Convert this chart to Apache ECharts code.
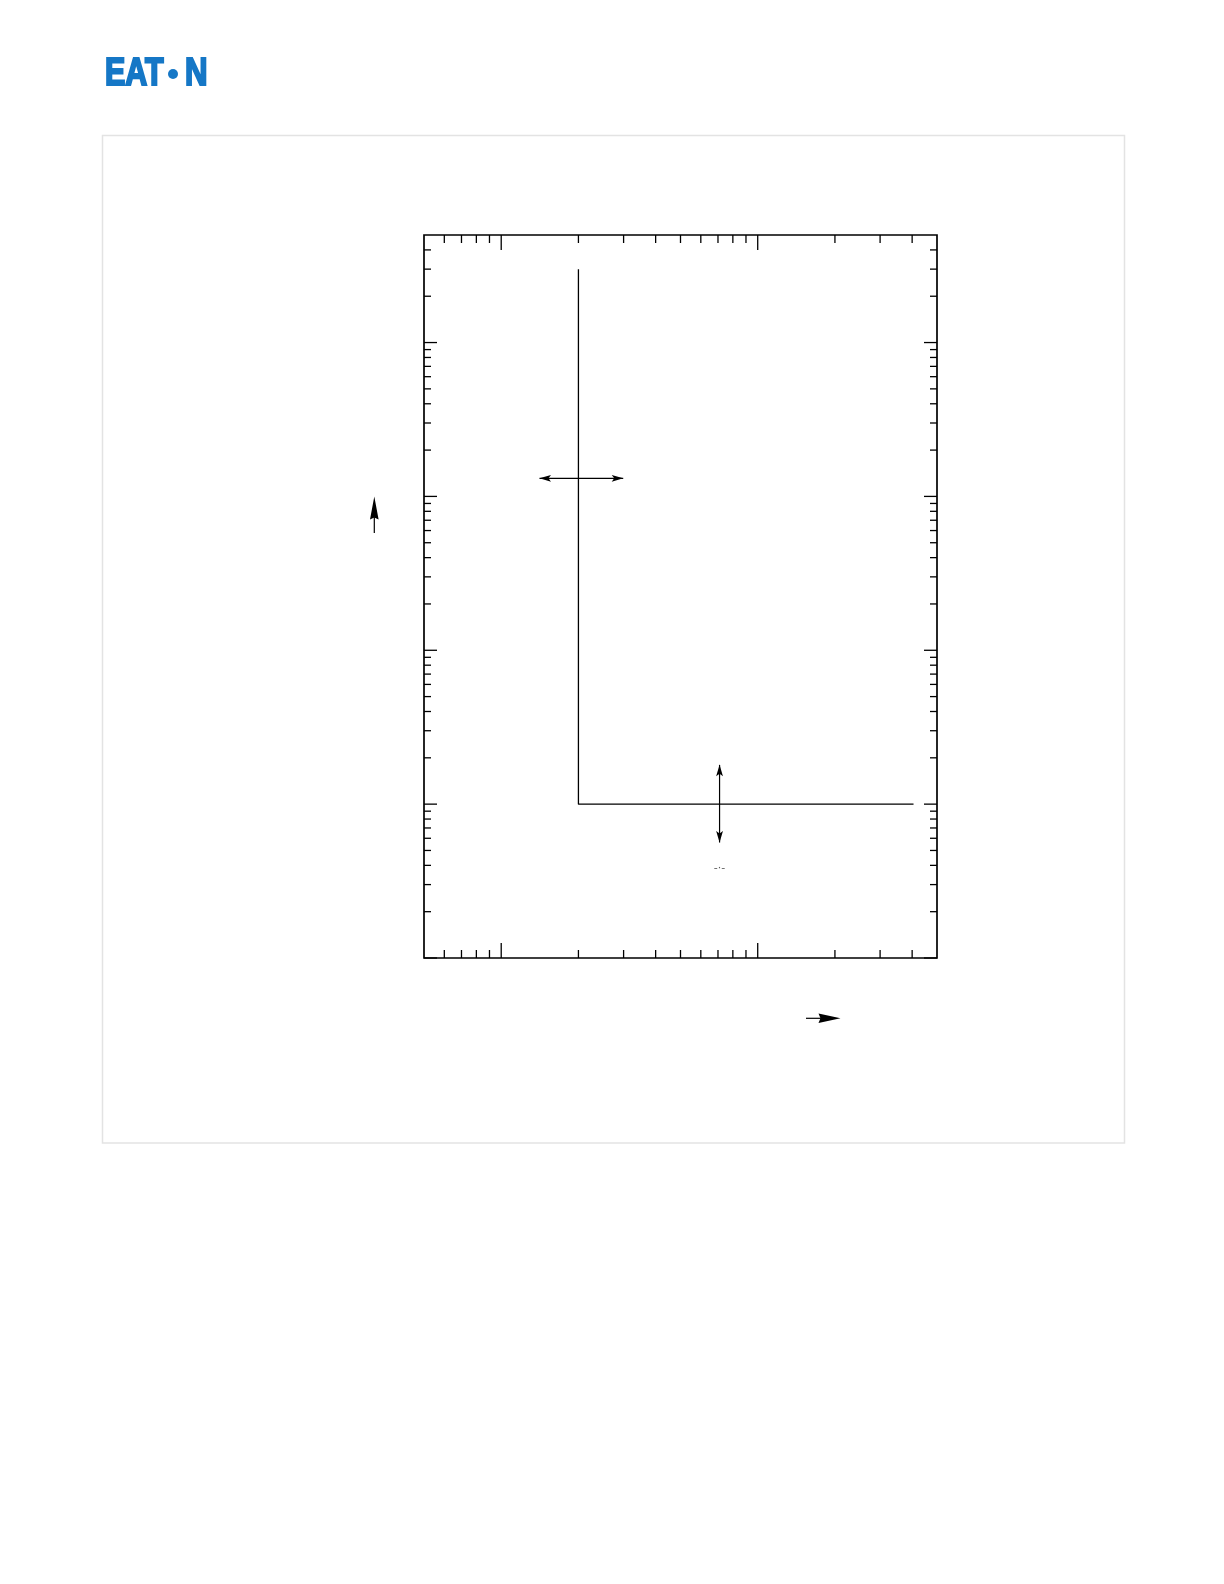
<!DOCTYPE html>
<html><head><meta charset="utf-8">
<script src="https://cdn.jsdelivr.net/npm/echarts@6/dist/echarts.min.js"></script>
<style>html,body{margin:0;padding:0;background:#fff}#c{width:1224px;height:1584px}</style>
</head><body><div id="c"></div>
<script>
// ---- data ----
const xRange = [0.5, 50];
const yRange = [0.1, 5000];
const curveX = [2, 2, 40.5];
const curveY = [3000, 1, 1];
const xMajorTicks = [1, 10];
const xMinorTicks = [0.6, 0.7, 0.8, 0.9, 2, 3, 4, 5, 6, 7, 8, 9, 20, 30, 40];
const yMajorTicks = [0.1, 1, 10, 100, 1000];
const yMinorTicks = [0.2, 0.3, 0.4, 0.5, 0.6, 0.7, 0.8, 0.9,
  2, 3, 4, 5, 6, 7, 8, 9, 20, 30, 40, 50, 60, 70, 80, 90,
  200, 300, 400, 500, 600, 700, 800, 900, 2000, 3000, 4000];
const arrowHX = [1.41, 2.99];
const arrowHY = [131, 131];
const arrowVX = [7.1, 7.1];
const arrowVY = [1.8, 0.563];
const markText = '-·-';
const markPos = [7.1, 0.385];

// ---- chart ----
const chart = echarts.init(document.getElementById('c'), null, {renderer: 'canvas'});

function xTicks(values, len) {
  return {
    type: 'custom', clip: false, silent: true, z: 5,
    data: values.map(v => [v, yRange[0]]),
    encode: {x: 0, y: 1},
    renderItem(params, api) {
      const x = api.value(0);
      const b = api.coord([x, yRange[0]]);
      const t = api.coord([x, yRange[1]]);
      const st = {stroke: '#000', lineWidth: 1.3};
      return {type: 'group', children: [
        {type: 'line', shape: {x1: b[0], y1: b[1], x2: b[0], y2: b[1] - len}, style: st},
        {type: 'line', shape: {x1: t[0], y1: t[1], x2: t[0], y2: t[1] + len}, style: st}
      ]};
    }
  };
}
function yTicks(values, len) {
  return {
    type: 'custom', clip: false, silent: true, z: 5,
    data: values.map(v => [xRange[0], v]),
    encode: {x: 0, y: 1},
    renderItem(params, api) {
      const y = api.value(1);
      const l = api.coord([xRange[0], y]);
      const r = api.coord([xRange[1], y]);
      const st = {stroke: '#000', lineWidth: 1.3};
      return {type: 'group', children: [
        {type: 'line', shape: {x1: l[0], y1: l[1], x2: l[0] + len, y2: l[1]}, style: st},
        {type: 'line', shape: {x1: r[0], y1: r[1], x2: r[0] - len, y2: r[1]}, style: st}
      ]};
    }
  };
}
function head(tip, from, L, W, N) {
  const dx = tip[0] - from[0], dy = tip[1] - from[1];
  const d = Math.hypot(dx, dy); const ux = dx / d, uy = dy / d;
  const px = -uy, py = ux;
  const bx = tip[0] - ux * L, by = tip[1] - uy * L;
  return {type: 'polygon', shape: {points: [
    tip, [bx + px * W, by + py * W], [tip[0] - ux * (L - N), tip[1] - uy * (L - N)], [bx - px * W, by - py * W]
  ]}, style: {fill: '#000'}};
}
function arrowSeries(xs, ys) {
  return {
    type: 'custom', clip: false, silent: true, z: 6,
    data: [[xs[0], ys[0], xs[1], ys[1]]],
    encode: {x: [0, 2], y: [1, 3]},
    renderItem(params, api) {
      const p1 = api.coord([api.value(0), api.value(1)]);
      const p2 = api.coord([api.value(2), api.value(3)]);
      return {type: 'group', children: [
        {type: 'line', shape: {x1: p1[0], y1: p1[1], x2: p2[0], y2: p2[1]}, style: {stroke: '#000', lineWidth: 1.2}},
        head(p1, p2, 11.5, 3.4, 2.5),
        head(p2, p1, 11.5, 3.4, 2.5)
      ]};
    }
  };
}

const logoStyle = {fill: '#1577c6', stroke: '#1577c6', lineWidth: 2.2, fontSize: 39, fontWeight: 'bold', fontFamily: 'Liberation Sans', verticalAlign: 'middle', align: 'left'};

const option = {
  animation: false,
  backgroundColor: '#fff',
  grid: {left: 424, top: 235, width: 513, height: 723, show: true, borderColor: '#000', borderWidth: 1.7, backgroundColor: 'transparent', containLabel: false},
  xAxis: {type: 'log', logBase: 10, min: xRange[0], max: xRange[1],
    axisLine: {show: false}, axisTick: {show: false}, axisLabel: {show: false}, splitLine: {show: false}},
  yAxis: {type: 'log', logBase: 10, min: yRange[0], max: yRange[1],
    axisLine: {show: false}, axisTick: {show: false}, axisLabel: {show: false}, splitLine: {show: false}},
  series: [
    xTicks(xMajorTicks, 15), xTicks(xMinorTicks, 8),
    yTicks(yMajorTicks, 13), yTicks(yMinorTicks, 7),
    {type: 'line', data: curveX.map((x, i) => [x, curveY[i]]), showSymbol: false, symbol: 'none',
      lineStyle: {color: '#000', width: 1.3}, silent: true, z: 4},
    arrowSeries(arrowHX, arrowHY),
    arrowSeries(arrowVX, arrowVY),
    {type: 'scatter', data: [markPos], symbolSize: 0, silent: true,
      label: {show: true, formatter: markText, position: 'inside', color: '#333', fontSize: 11, fontFamily: 'DejaVu Sans'}}
  ],
  graphic: [
    {type: 'rect', shape: {x: 102.5, y: 135.5, width: 1022, height: 1007.5}, style: {fill: 'none', stroke: '#e3e3e3', lineWidth: 1.5}, silent: true},
    {type: 'text', x: 105, y: 74, scaleX: 0.78, style: Object.assign({text: 'EAT'}, logoStyle), silent: true},
    {type: 'circle', shape: {cx: 173, cy: 74, r: 5}, style: {fill: '#1577c6'}, silent: true},
    {type: 'text', x: 185, y: 74, scaleX: 0.8, style: Object.assign({text: 'N'}, logoStyle), silent: true},
    {type: 'line', shape: {x1: 374.3, y1: 533, x2: 374.3, y2: 516}, style: {stroke: '#000', lineWidth: 1.2}, silent: true},
    {type: 'polygon', shape: {points: [[374.3, 496.5], [370, 519.5], [374.3, 517.5], [378.6, 519.5]]}, style: {fill: '#000'}, silent: true},
    {type: 'line', shape: {x1: 806, y1: 1018.3, x2: 822, y2: 1018.3}, style: {stroke: '#000', lineWidth: 1.2}, silent: true},
    {type: 'polygon', shape: {points: [[840.5, 1018.3], [818.5, 1013.6], [820.5, 1018.3], [818.5, 1023]]}, style: {fill: '#000'}, silent: true}
  ]
};
chart.setOption(option);
</script>
</body></html>
